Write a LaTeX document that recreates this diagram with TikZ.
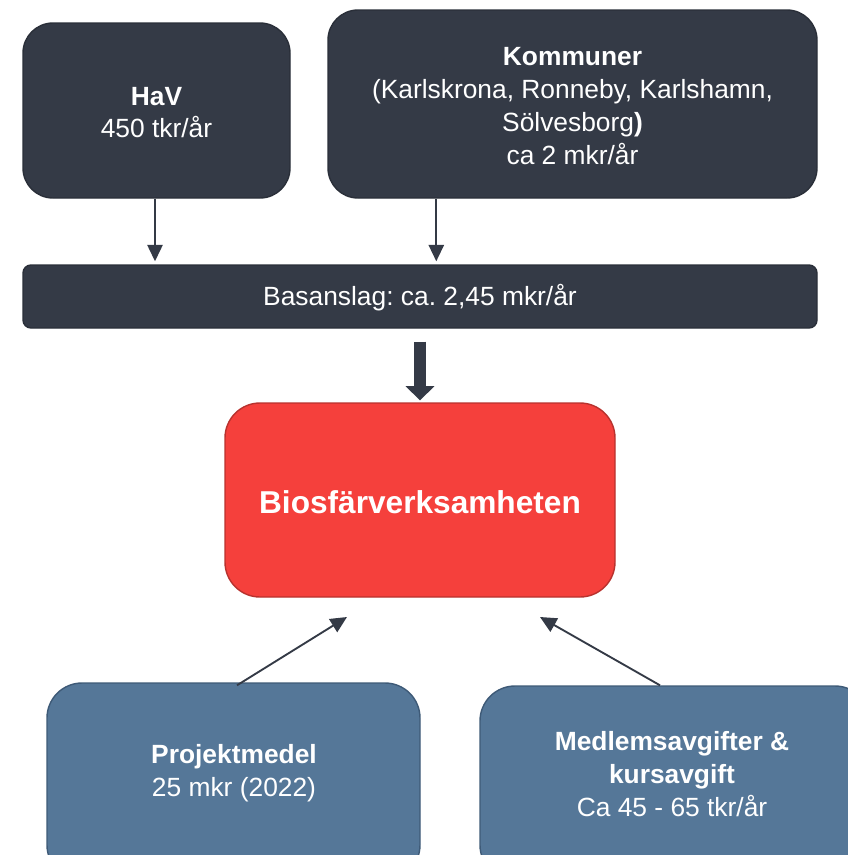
\documentclass[tikz,border=0pt]{standalone}
\usepackage{fontspec}
\setmainfont{Liberation Sans}
\usetikzlibrary{arrows.meta,calc}
\definecolor{darkfill}{HTML}{343A46}
\definecolor{darkline}{HTML}{2A2F39}
\definecolor{redfill}{HTML}{F5403C}
\definecolor{redline}{HTML}{B8322E}
\definecolor{bluefill}{HTML}{557798}
\definecolor{blueline}{HTML}{3E5A77}
\def\u{0.03cm}
\frenchspacing
\tikzset{
  box/.style={draw, line width=1.2pt, inner sep=0pt, text=white, align=center},
  darkbox/.style={box, fill=darkfill, draw=darkline},
  redbox/.style={box, fill=redfill, draw=redline},
  bluebox/.style={box, fill=bluefill, draw=blueline, rounded corners=35*\u},
  txt/.style={text=white, align=center, inner sep=0pt, font=\fontsize{22.5}{28}\selectfont\frenchspacing},
  conn/.style={draw=darkfill, line width=1.6pt, -{Triangle[length=14pt,width=13pt]}},
}
\begin{document}
\begin{tikzpicture}[x=0.03cm,y=-0.03cm]
\useasboundingbox (0,0) rectangle (848,855);
% top boxes
\node[darkbox, rounded corners=30*\u, minimum width=267*\u, minimum height=175*\u] (hav) at (156.5,110.5) {};
\node[txt] (havt) at (156.5,112.5) {\textbf{HaV}\\450 tkr/år};
\node[darkbox, rounded corners=30*\u, minimum width=489*\u, minimum height=188*\u] (komm) at (572.5,104) {};
\node[txt] (kommt) at (572.5,106) {\textbf{Kommuner}\\(Karlskrona, Ronneby, Karlshamn,\\Sölvesborg\textbf{)}\\ ca 2 mkr/år};
% base bar
\node[darkbox, rounded corners=8*\u, minimum width=794*\u, minimum height=63*\u] (bas) at (420,296.5) {};
\node[txt] (bast) at (420,298) {Basanslag: ca. 2,45 mkr/år};
% central box
\node[redbox, rounded corners=35*\u, minimum width=390*\u, minimum height=194*\u] (bio) at (420,500) {};
\node[txt, font=\fontsize{27}{32}\selectfont\bfseries] (biot) at (420,502) {Biosfärverksamheten};
% bottom boxes
\node[bluebox, minimum width=373*\u, minimum height=197*\u] (proj) at (233.5,781.5) {};
\node[txt] (projt) at (234,773.5) {\textbf{Projektmedel}\\25 mkr (2022)};
\node[bluebox, minimum width=390*\u, minimum height=194*\u] (medl) at (675,783) {};
\node[txt] (medlt) at (672,774) {\textbf{Medlemsavgifter \&}\\\textbf{kursavgift}\\Ca 45 - 65 tkr/år};
% connectors
\coordinate (pa) at (347,617);
\coordinate (ma) at (540,617);
\draw[conn, shorten >=3*\u] ([xshift=-1.5*\u]hav.south) -- ([xshift=-1.5*\u]hav.south |- bas.north);
\draw[conn, shorten >=3*\u] ([xshift=109*\u]komm.south west) -- ([xshift=109*\u]komm.south west |- bas.north);
\draw[draw=darkfill, line width=11pt, -{Triangle[length=12pt,width=24pt]}, shorten <=13*\u, shorten >=2*\u] (bas.south) -- (bio.north);
\draw[conn] ([xshift=3.5*\u,yshift=-3*\u]proj.north) -- (pa);
\draw[conn] ([xshift=-15*\u]medl.north) -- (ma);
\end{tikzpicture}
\end{document}
